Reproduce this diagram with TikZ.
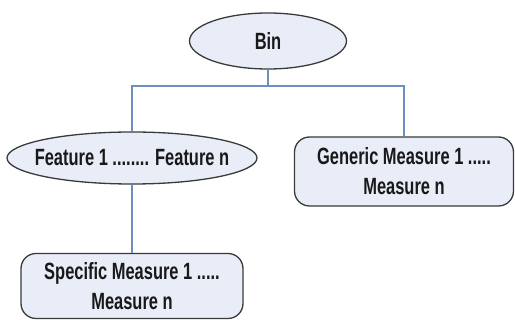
\documentclass[tikz,border=0pt]{standalone}
\usepackage{fontspec}
\setmainfont{Liberation Sans}[FakeStretch=0.70]
\usetikzlibrary{shapes.geometric}
\definecolor{nodefill}{HTML}{E8EDF8}
\definecolor{nodeedge}{HTML}{3A3A3A}
\definecolor{linkblue}{HTML}{6F8EC2}
\begin{document}
\begin{tikzpicture}[x=1pt,y=-1pt,
  lbl/.style={font=\fontsize{23.5}{30}\selectfont\bfseries, text=black!90, align=center, inner sep=0pt},
  oval/.style={lbl, ellipse, draw=nodeedge, fill=nodefill, line width=1.3pt},
  rbox/.style={lbl, rectangle, rounded corners=15pt, draw=nodeedge, fill=nodefill, line width=1.3pt},
  link/.style={draw=linkblue, line width=1.2pt}]
  \useasboundingbox (0,0) rectangle (515,320);

  % tree nodes (oval labels are zero-width so the given sizes hold)
  \node[oval, minimum width=157pt, minimum height=56pt] (bin) at (268,41) {\makebox[0pt]{Bin}};
  \node[oval, minimum width=250pt, minimum height=52pt] (feat) at (132,158) {\makebox[0pt]{Feature 1 ........ Feature n}};
  \node[rbox, minimum width=219pt, minimum height=69pt] (gen) at (404,171.5) {Generic Measure 1 .....\\Measure n};
  \node[rbox, minimum width=222pt, minimum height=65pt] (spec) at (132,286) {Specific Measure 1 .....\\Measure n};

  % connectors
  \coordinate (j) at (268,86);
  \draw[link] (bin.south) -- (j);
  \draw[link] (feat.north) |- (j) -| (gen.north);
  \draw[link] (feat.south) -- (spec.north);
\end{tikzpicture}
\end{document}
